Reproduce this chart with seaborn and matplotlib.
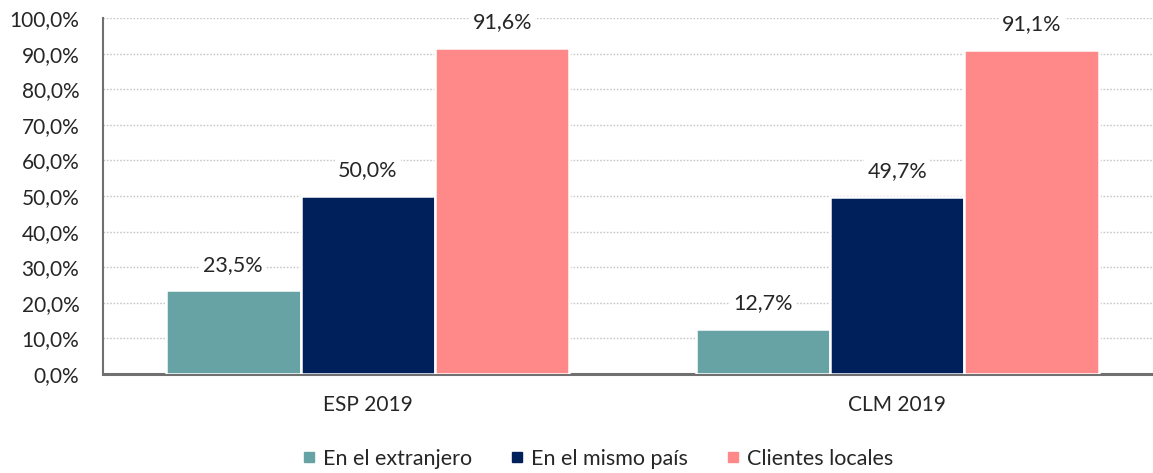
import matplotlib
matplotlib.use("Agg")
import matplotlib.pyplot as plt
from matplotlib.lines import Line2D
import seaborn as sns
import pandas as pd

categories = ["ESP 2019", "CLM 2019"]
series = ["En el extranjero", "En el mismo país", "Clientes locales"]
extranjero = [23.5, 12.7]
mismo_pais = [50.0, 49.7]
locales = [91.6, 91.1]
colors = ["#67A3A5", "#00205B", "#FF8888"]
yticks = [0, 10, 20, 30, 40, 50, 60, 70, 80, 90, 100]

rows = []
for name, vals in zip(series, [extranjero, mismo_pais, locales]):
    for cat, v in zip(categories, vals):
        rows.append({"cat": cat, "serie": name, "valor": v})
df = pd.DataFrame(rows)

sns.set_theme(style="white")
plt.rcParams["font.family"] = ["Lato", "DejaVu Sans"]

fig = plt.figure(figsize=(11.53, 4.73), dpi=100)
ax = fig.add_axes([103 / 1153, 1 - 374 / 473, 1050 / 1153, 356 / 473])

sns.barplot(data=df, x="cat", y="valor", hue="serie", order=categories,
            hue_order=series, palette=colors, width=0.762, saturation=1,
            edgecolor="white", linewidth=1.8, legend=False, ax=ax, zorder=3)

ax.set_ylim(0, 100)
ax.set_xlim(-0.5, 1.483)
ax.set_yticks(yticks)
ax.set_yticklabels([f"{t:.1f}".replace(".", ",") + "%" for t in yticks])
ax.yaxis.grid(True, linestyle=(0, (1.2, 1.2)), color="#C8C8C8", linewidth=1.0, zorder=0)
ax.set_axisbelow(True)
ax.set_xlabel("")
ax.set_ylabel("")
ax.tick_params(axis="y", length=0, labelsize=15, colors="#262626", pad=17)
ax.tick_params(axis="x", length=0, labelsize=15, colors="#262626", pad=15)
for s in ["top", "right"]:
    ax.spines[s].set_visible(False)
ax.spines["left"].set_color("#707070")
ax.spines["left"].set_linewidth(1.5)
ax.spines["bottom"].set_color("#707070")
ax.spines["bottom"].set_linewidth(2.2)

for container in ax.containers:
    for bar in container:
        h = bar.get_height()
        ax.annotate(f"{h:.1f}".replace(".", ",") + "%",
                    xy=(bar.get_x() + bar.get_width() / 2, h),
                    xytext=(0, 18.5), textcoords="offset points",
                    ha="center", va="center", fontsize=15.5, color="#262626",
                    bbox=dict(boxstyle="square,pad=0.15", fc="white", ec="none"),
                    zorder=4)

handles = [Line2D([0], [0], marker="s", linestyle="none", markersize=7.5,
                  markerfacecolor=c, markeredgecolor=c) for c in colors]
fig.legend(handles, series, loc="center", bbox_to_anchor=(597 / 1153, 1 - 459 / 473),
           ncol=3, frameon=False, fontsize=15.5, handletextpad=0.25,
           columnspacing=1.7, handlelength=0.8, labelcolor="#262626")

fig.savefig("out.png", dpi=100)
